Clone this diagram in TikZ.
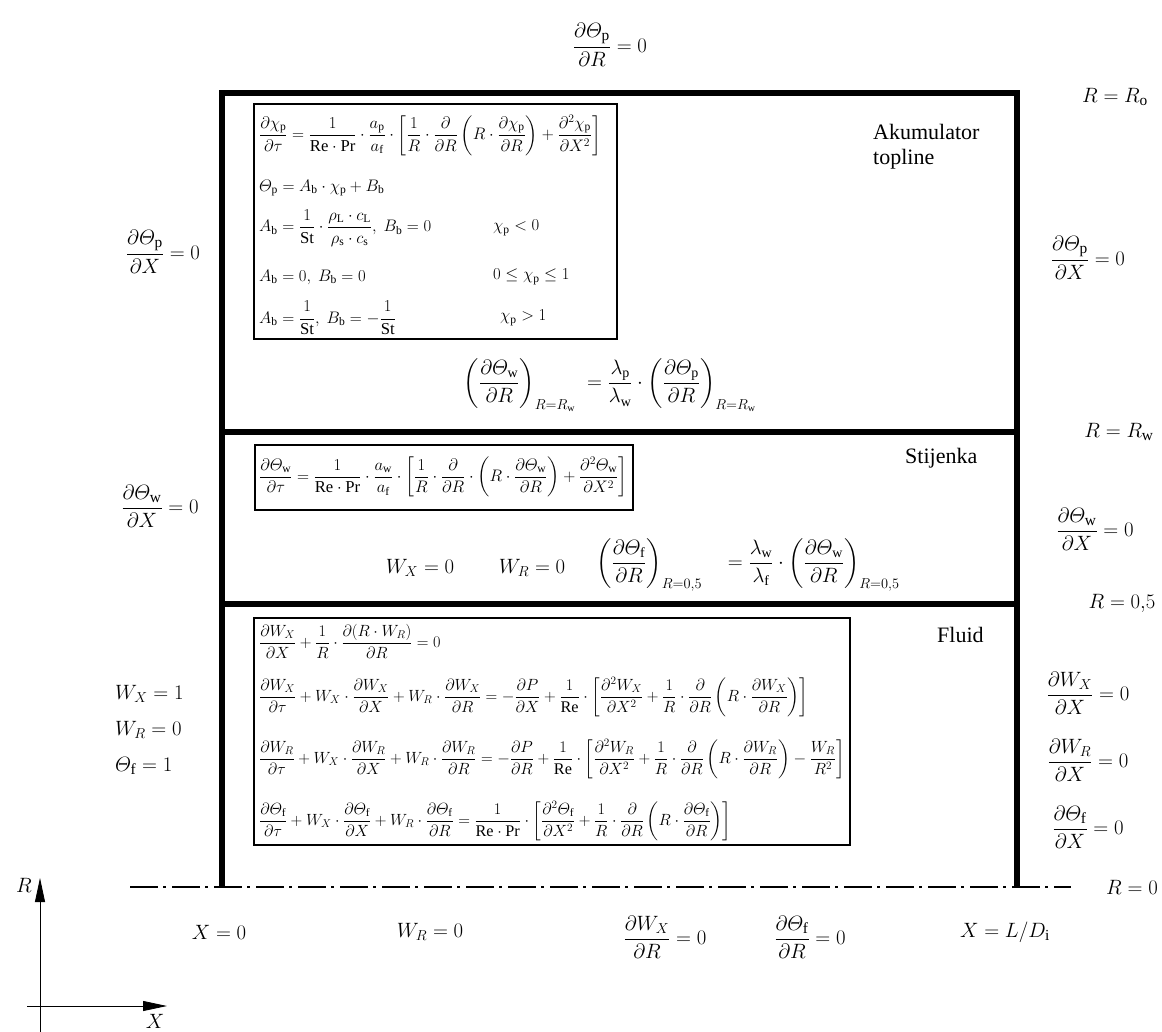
\documentclass[tikz,border=0pt]{standalone}
\usepackage{amsmath}
\usepackage{graphicx}
\usepackage{fontspec}
\setmainfont{Liberation Serif}
\usetikzlibrary{arrows.meta}

\newcommand{\pd}{\partial}
\newcommand{\rs}[1]{_{\mathrm{#1}}}
\newcommand{\boxeq}[1]{\scalebox{0.965}{$\displaystyle #1$}}
\newcommand{\fluideq}[1]{\scalebox{0.94}{$\displaystyle #1$}}

\begin{document}
\begin{tikzpicture}[x=1pt, y=-1pt,
    wall/.style={line width=5.5pt},
    eqbox/.style={draw, line width=1.3pt},
    eq/.style={anchor=west, inner sep=0pt, font=\fontsize{17.28}{20}\selectfont},
    bc/.style={inner sep=0pt, font=\fontsize{22}{26}\selectfont,
      execute at begin node=$\displaystyle, execute at end node=$},
    region/.style={anchor=west, align=left, inner sep=0pt, font=\fontsize{22}{25}\selectfont},
    axis/.style={line width=0.8pt, -{Triangle[length=24pt, width=10pt]}}]

\useasboundingbox (0,0) rectangle (1162,1032);

% walls and axis of symmetry
\draw[wall] (222,887) -- (222,93) -- (1017,93) -- (1017,887);
\draw[wall] (222,432) -- (1017,432);
\draw[wall] (222,604) -- (1017,604);
\draw[line width=2.6pt, dash pattern=on 28pt off 5pt on 3pt off 6pt] (130,887) -- (1071,887);

% equation boxes
\draw[eqbox] (254,104) rectangle (617,339);
\draw[eqbox] (255,445) rectangle (633,510);
\draw[eqbox] (254,618) rectangle (850,845);

% Akumulator topline
\node[region] (akum) at (873,147) {Akumulator\\topline};
\node[eq] (p1) at (259,135) {\boxeq{\frac{\pd\chi\rs{p}}{\pd\tau}=\frac{1}{\mathrm{Re}\cdot\mathrm{Pr}}\cdot\frac{a\rs{p}}{a\rs{f}}\cdot\left[\frac{1}{R}\cdot\frac{\pd}{\pd R}\left(R\cdot\frac{\pd\chi\rs{p}}{\pd R}\right)+\frac{\pd^2\chi\rs{p}}{\pd X^2}\right]}};
\node[eq] (p2) at (259,188) {\boxeq{\varTheta\rs{p}=A\rs{b}\cdot\chi\rs{p}+B\rs{b}}};
\node[eq] (p3) at (259,228) {\boxeq{A\rs{b}=\frac{1}{\mathrm{St}}\cdot\frac{\rho\rs{L}\cdot c\rs{L}}{\rho\rs{s}\cdot c\rs{s}},\ B\rs{b}=0}};
\node[eq] (p4) at (259,277) {\boxeq{A\rs{b}=0,\ B\rs{b}=0}};
\node[eq] (p5) at (259,318) {\boxeq{A\rs{b}=\frac{1}{\mathrm{St}},\ B\rs{b}=-\frac{1}{\mathrm{St}}}};
\node[eq] (c1) at (493,228) {\boxeq{\chi\rs{p}<0}};
\node[eq] (c2) at (493,277) {\boxeq{0\le\chi\rs{p}\le1}};
\node[eq] (c3) at (500,318) {\boxeq{\chi\rs{p}>1}};
\node[bc, font=\fontsize{20}{24}\selectfont] (ifpw) at (610,385) {\left(\frac{\pd\varTheta\rs{w}}{\pd R}\right)_{R=R\rs{w}}\;=\frac{\lambda\rs{p}}{\lambda\rs{w}}\cdot\left(\frac{\pd\varTheta\rs{p}}{\pd R}\right)_{R=R\rs{w}}};

% Stijenka
\node[region] (stij) at (905,458) {Stijenka};
\node[eq] (w1) at (259,477) {\boxeq{\frac{\pd\varTheta\rs{w}}{\pd\tau}=\frac{1}{\mathrm{Re}\cdot\mathrm{Pr}}\cdot\frac{a\rs{w}}{a\rs{f}}\cdot\left[\frac{1}{R}\cdot\frac{\pd}{\pd R}\cdot\left(R\cdot\frac{\pd\varTheta\rs{w}}{\pd R}\right)+\frac{\pd^2\varTheta\rs{w}}{\pd X^2}\right]}};
\node[bc, font=\fontsize{20}{24}\selectfont] (wx0) at (420,568) {W_X=0};
\node[bc, font=\fontsize{20}{24}\selectfont] (wr0) at (532,568) {W_R=0};
\node[bc, font=\fontsize{20}{24}\selectfont] (ifwf) at (748,565) {\left(\frac{\pd\varTheta\rs{f}}{\pd R}\right)_{R=0{,}5}\quad=\frac{\lambda\rs{w}}{\lambda\rs{f}}\cdot\left(\frac{\pd\varTheta\rs{w}}{\pd R}\right)_{R=0{,}5}};

% Fluid
\node[region] (fluid) at (937,635) {Fluid};
\node[eq] (f1) at (259,641) {\fluideq{\frac{\pd W_X}{\pd X}+\frac{1}{R}\cdot\frac{\pd(R\cdot W_R)}{\pd R}=0}};
\node[eq] (f2) at (259,697) {\fluideq{\frac{\pd W_X}{\pd\tau}+W_X\cdot\frac{\pd W_X}{\pd X}+W_R\cdot\frac{\pd W_X}{\pd R}=-\frac{\pd P}{\pd X}+\frac{1}{\mathrm{Re}}\cdot\left[\frac{\pd^2W_X}{\pd X^2}+\frac{1}{R}\cdot\frac{\pd}{\pd R}\left(R\cdot\frac{\pd W_X}{\pd R}\right)\right]}};
\node[eq] (f3) at (259,759) {\fluideq{\frac{\pd W_R}{\pd\tau}+W_X\cdot\frac{\pd W_R}{\pd X}+W_R\cdot\frac{\pd W_R}{\pd R}=-\frac{\pd P}{\pd R}+\frac{1}{\mathrm{Re}}\cdot\left[\frac{\pd^2W_R}{\pd X^2}+\frac{1}{R}\cdot\frac{\pd}{\pd R}\left(R\cdot\frac{\pd W_R}{\pd R}\right)-\frac{W_R}{R^2}\right]}};
\node[eq] (f4) at (259,821) {\fluideq{\frac{\pd\varTheta\rs{f}}{\pd\tau}+W_X\cdot\frac{\pd\varTheta\rs{f}}{\pd X}+W_R\cdot\frac{\pd\varTheta\rs{f}}{\pd R}=\frac{1}{\mathrm{Re}\cdot\mathrm{Pr}}\cdot\left[\frac{\pd^2\varTheta\rs{f}}{\pd X^2}+\frac{1}{R}\cdot\frac{\pd}{\pd R}\left(R\cdot\frac{\pd\varTheta\rs{f}}{\pd R}\right)\right]}};

% boundary conditions: top and left
\node[bc] (top) at (610,45) {\frac{\pd\varTheta\rs{p}}{\pd R}=0};
\node[bc] (lp) at (163,252) {\frac{\pd\varTheta\rs{p}}{\pd X}=0};
\node[bc] (lw) at (160,506) {\frac{\pd\varTheta\rs{w}}{\pd X}=0};
\node[bc, anchor=west] (inwx) at (115,694) {W_X=1};
\node[bc, anchor=west] (inwr) at (115,730) {W_R=0};
\node[bc, anchor=west] (inth) at (115,766) {\varTheta\rs{f}=1};

% boundary conditions: right
\node[bc] (rro) at (1115,97) {R=R\rs{o}};
\node[bc] (rp) at (1088,258) {\frac{\pd\varTheta\rs{p}}{\pd X}=0};
\node[bc] (rrw) at (1119,432) {R=R\rs{w}};
\node[bc] (rw) at (1095,529) {\frac{\pd\varTheta\rs{w}}{\pd X}=0};
\node[bc] (rr5) at (1122,603) {R=0{,}5};
\node[bc] (rwx) at (1088,693) {\frac{\pd W_X}{\pd X}=0};
\node[bc] (rwr) at (1088,760) {\frac{\pd W_R}{\pd X}=0};
\node[bc] (rth) at (1088,827) {\frac{\pd\varTheta\rs{f}}{\pd X}=0};
\node[bc] (rr0) at (1132,887) {R=0};

% boundary conditions: bottom
\node[bc] (bx0) at (219,932) {X=0};
\node[bc] (bwr) at (430,932) {W_R=0};
\node[bc] (bwx) at (665,937) {\frac{\pd W_X}{\pd R}=0};
\node[bc] (bth) at (810,937) {\frac{\pd\varTheta\rs{f}}{\pd R}=0};
\node[bc] (bxl) at (1005,932) {X=L/D\rs{i}};

% coordinate axes
\coordinate (orig) at (40,1006);
\coordinate (rtip) at (40,878);
\coordinate (xtip) at (167,1006);
\draw[line width=0.8pt] (40,1032) -- (orig);
\draw[axis] (orig) -- (rtip);
\draw[axis] (27,1006) -- (xtip);
\node[bc] (rlab) at (24,885) {R};
\node[bc] (xlab) at (155,1021) {X};
\end{tikzpicture}
\end{document}
